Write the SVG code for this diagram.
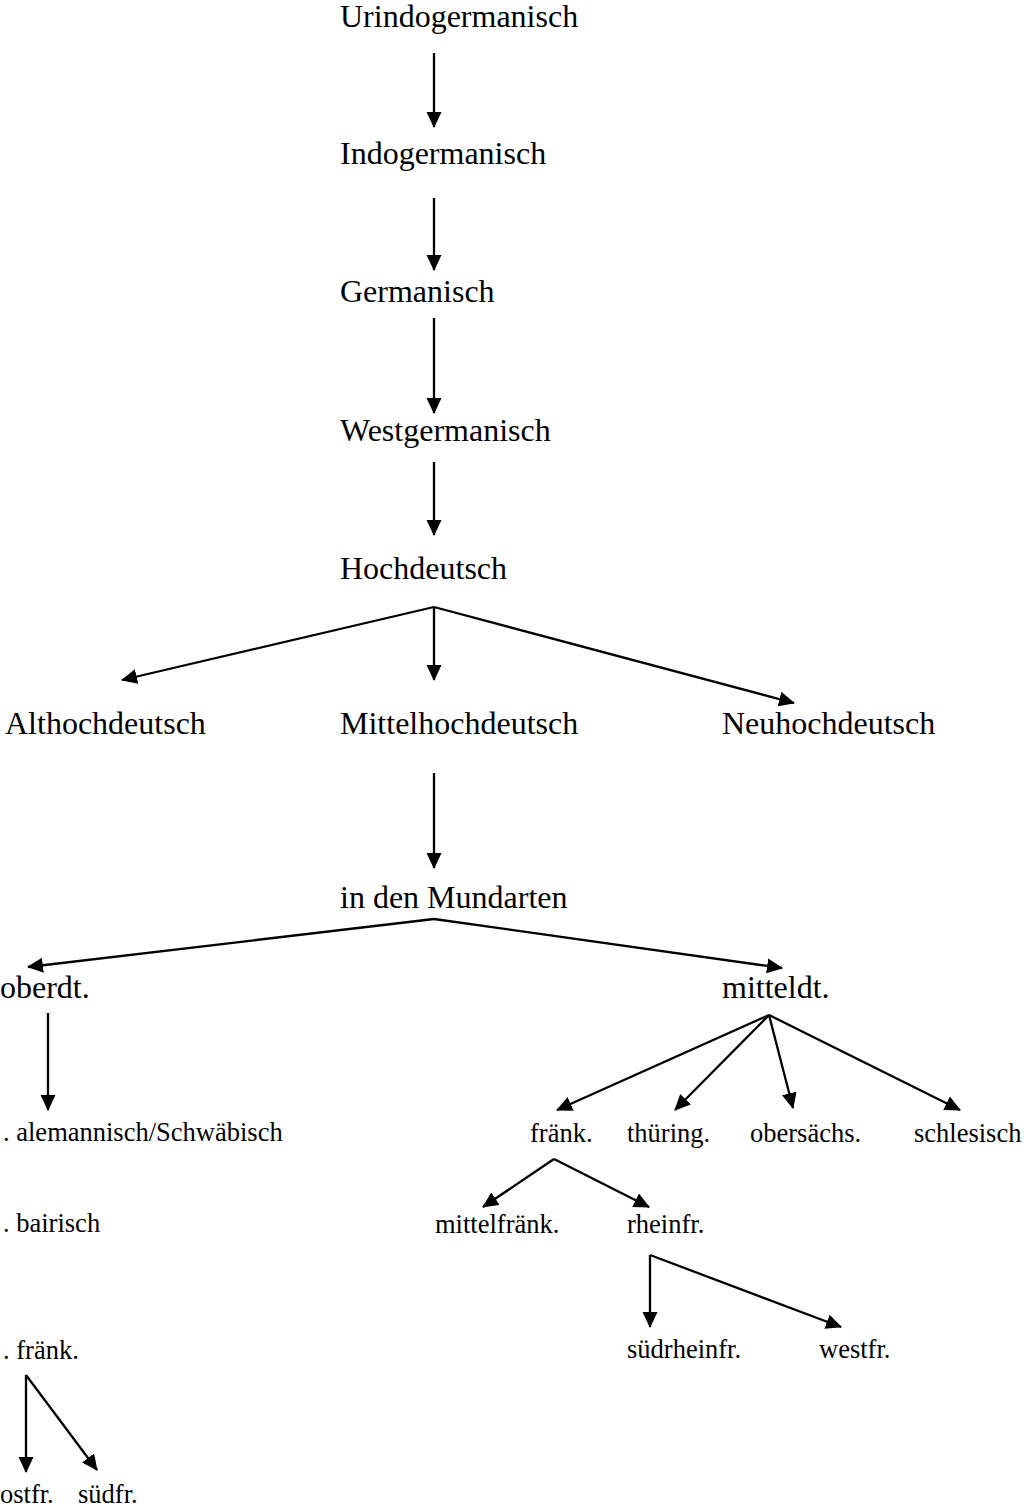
<svg xmlns="http://www.w3.org/2000/svg" width="1024" height="1511" viewBox="0 0 1024 1511">
<defs>
<marker id="ah" markerUnits="userSpaceOnUse" markerWidth="16" markerHeight="16" refX="15" refY="8" orient="auto"><path d="M0,0.5 L16,8 L0,15.5 z" fill="#000"/></marker>
</defs>
<style>
text{font-family:"Liberation Serif","Times New Roman",serif;fill:#000}
.l{font-size:32px}
.s{font-size:26.5px}
#connectors line{stroke:#000;stroke-width:2.3;marker-end:url(#ah)}
</style>
<rect width="1024" height="1511" fill="#fff"/>
<g id="connectors">
<line x1="434" y1="53" x2="434" y2="127"/>
<line x1="434" y1="198" x2="434" y2="270"/>
<line x1="434" y1="318" x2="434" y2="413"/>
<line x1="434" y1="462" x2="434" y2="535"/>
<line x1="434" y1="607" x2="122" y2="680"/>
<line x1="434" y1="607" x2="434" y2="680"/>
<line x1="434" y1="607" x2="794" y2="703"/>
<line x1="434" y1="773" x2="434" y2="868"/>
<line x1="434" y1="919" x2="28" y2="967"/>
<line x1="434" y1="919" x2="782" y2="968"/>
<line x1="48" y1="1013" x2="48" y2="1110"/>
<line x1="769" y1="1015" x2="557" y2="1110"/>
<line x1="769" y1="1015" x2="675" y2="1110"/>
<line x1="769" y1="1015" x2="793" y2="1108"/>
<line x1="769" y1="1015" x2="960" y2="1110"/>
<line x1="554" y1="1159" x2="483" y2="1207"/>
<line x1="554" y1="1159" x2="649" y2="1207"/>
<line x1="650" y1="1255" x2="650" y2="1327"/>
<line x1="650" y1="1255" x2="841" y2="1327"/>
<line x1="26" y1="1375" x2="26" y2="1472"/>
<line x1="26" y1="1375" x2="97" y2="1470"/>
</g>
<g id="n-urindogermanisch"><text class="l" x="340" y="27">Urindogermanisch</text></g>
<g id="n-indogermanisch"><text class="l" x="340" y="164">Indogermanisch</text></g>
<g id="n-germanisch"><text class="l" x="340" y="302">Germanisch</text></g>
<g id="n-westgermanisch"><text class="l" x="340" y="441">Westgermanisch</text></g>
<g id="n-hochdeutsch"><text class="l" x="340" y="579">Hochdeutsch</text></g>
<g id="n-althochdeutsch"><text class="l" x="5" y="734">Althochdeutsch</text></g>
<g id="n-mittelhochdeutsch"><text class="l" x="340" y="734">Mittelhochdeutsch</text></g>
<g id="n-neuhochdeutsch"><text class="l" x="722" y="734">Neuhochdeutsch</text></g>
<g id="n-mundarten"><text class="l" x="340" y="908">in den Mundarten</text></g>
<g id="n-oberdt"><text class="l" x="0" y="998">oberdt.</text></g>
<g id="n-mitteldt"><text class="l" x="722" y="998">mitteldt.</text></g>
<g id="n-alemannisch"><text class="s" x="3" y="1141">. alemannisch/Schwäbisch</text></g>
<g id="n-bairisch"><text class="s" x="3" y="1232">. bairisch</text></g>
<g id="n-fraenk-ober"><text class="s" x="3" y="1359">. fränk.</text></g>
<g id="n-ostfr"><text class="s" x="0" y="1503">ostfr.</text></g>
<g id="n-suedfr"><text class="s" x="78" y="1503">südfr.</text></g>
<g id="n-fraenk"><text class="s" x="530" y="1142">fränk.</text></g>
<g id="n-thuering"><text class="s" x="627" y="1142">thüring.</text></g>
<g id="n-obersaechs"><text class="s" x="750" y="1142">obersächs.</text></g>
<g id="n-schlesisch"><text class="s" x="914" y="1142">schlesisch</text></g>
<g id="n-mittelfraenk"><text class="s" x="435" y="1233">mittelfränk.</text></g>
<g id="n-rheinfr"><text class="s" x="627" y="1233">rheinfr.</text></g>
<g id="n-suedrheinfr"><text class="s" x="627" y="1358">südrheinfr.</text></g>
<g id="n-westfr"><text class="s" x="819" y="1358">westfr.</text></g>
</svg>
